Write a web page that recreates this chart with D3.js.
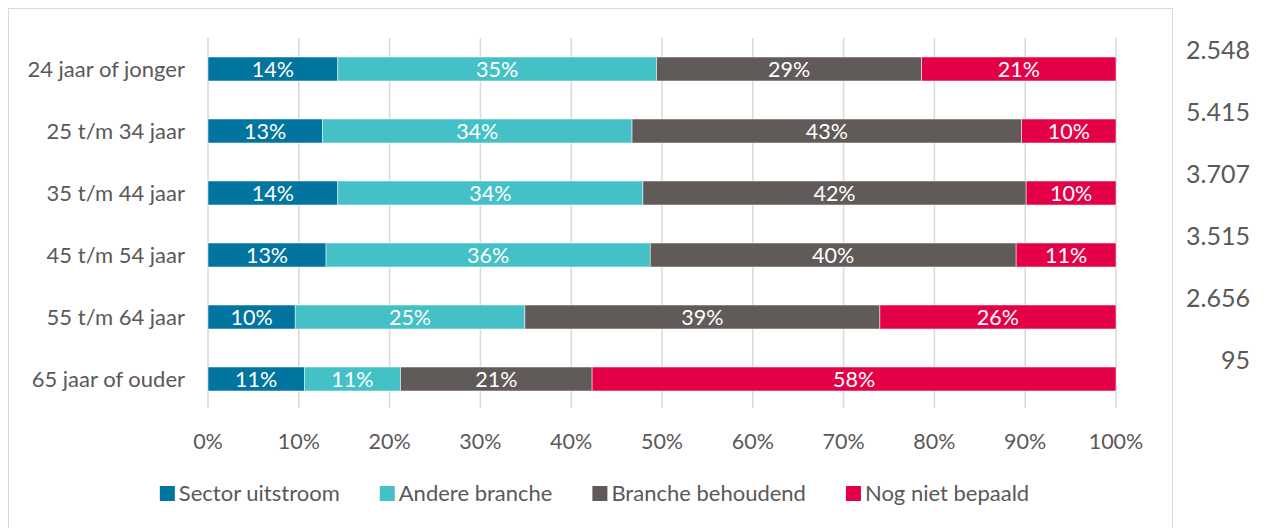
<!DOCTYPE html>
<html>
<head>
<meta charset="utf-8">
<script src="https://cdn.jsdelivr.net/npm/d3@7"></script>
<style>
  body { margin: 0; background: #fff; }
  text { font-family: Lato, "Open Sans", sans-serif; }
</style>
</head>
<body>
<div id="chart"></div>
<script>
// Data
const categories = ["24 jaar of jonger", "25 t/m 34 jaar", "35 t/m 44 jaar", "45 t/m 54 jaar", "55 t/m 64 jaar", "65 jaar of ouder"];
const seriesNames = ["Sector uitstroom", "Andere branche", "Branche behoudend", "Nog niet bepaald"];
const sectorUitstroom = [0.143, 0.126, 0.143, 0.130, 0.096, 0.106];
const andereBranche = [0.351, 0.341, 0.336, 0.357, 0.253, 0.106];
const brancheBehoudend = [0.292, 0.429, 0.422, 0.403, 0.391, 0.211];
const nogNietBepaald = [0.214, 0.104, 0.099, 0.110, 0.260, 0.577];
const totals = ["2.548", "5.415", "3.707", "3.515", "2.656", "95"];
const xTicks = [0, 0.1, 0.2, 0.3, 0.4, 0.5, 0.6, 0.7, 0.8, 0.9, 1];
const colors = ["#0175a0", "#44c1c7", "#605b58", "#e40046"];

const width = 1263, height = 528;
const plot = { left: 208, right: 1116, top: 38, bottom: 408 };

const svg = d3.select("#chart")
    .append("svg")
    .attr("width", width)
    .attr("height", height);

// chart frame
svg.append("rect")
    .attr("x", 8.5).attr("y", 8.5)
    .attr("width", 1164).attr("height", 540)
    .attr("fill", "none")
    .attr("stroke", "#d9d9d9");

const rows = categories.map((c, i) => ({
    cat: c,
    "Sector uitstroom": sectorUitstroom[i],
    "Andere branche": andereBranche[i],
    "Branche behoudend": brancheBehoudend[i],
    "Nog niet bepaald": nogNietBepaald[i]
}));

const x = d3.scaleLinear().domain([0, 1]).range([plot.left, plot.right]);
const y = d3.scaleBand()
    .domain(categories)
    .range([38, 410])
    .paddingInner(0.613)
    .paddingOuter(0.3065);
const color = d3.scaleOrdinal().domain(seriesNames).range(colors);

// gridlines
svg.append("g")
    .selectAll("line")
    .data(xTicks)
    .enter()
    .append("line")
    .attr("x1", d => x(d)).attr("x2", d => x(d))
    .attr("y1", plot.top).attr("y2", plot.bottom)
    .attr("stroke", "#d9d9d9")
    .attr("stroke-width", 1.5);

// x tick labels
svg.append("g")
    .selectAll("text")
    .data(xTicks)
    .enter()
    .append("text")
    .attr("x", d => x(d))
    .attr("y", 441)
    .attr("dy", "0.35em")
    .attr("text-anchor", "middle")
    .style("font-size", "21.5px")
    .style("fill", "#595959")
    .text(d3.format(".0%"));

// category labels
svg.append("g")
    .selectAll("text")
    .data(categories)
    .enter()
    .append("text")
    .attr("x", 185)
    .attr("y", d => y(d) + y.bandwidth() / 2)
    .attr("dy", "0.35em")
    .attr("text-anchor", "end")
    .style("font-size", "22px")
    .style("fill", "#595959")
    .text(d => d);

// stacked bars
const stacked = d3.stack().keys(seriesNames)(rows);

const layers = svg.append("g")
    .selectAll("g")
    .data(stacked)
    .enter()
    .append("g")
    .attr("fill", d => color(d.key));

layers.selectAll("rect")
    .data(d => d)
    .enter()
    .append("rect")
    .attr("x", d => x(d[0]))
    .attr("y", d => y(d.data.cat))
    .attr("width", d => x(d[1]) - x(d[0]))
    .attr("height", y.bandwidth())
    .attr("stroke", "#ffffff")
    .attr("stroke-width", 0.5);

layers.selectAll("text")
    .data(d => d)
    .enter()
    .append("text")
    .attr("x", d => (x(d[0]) + x(d[1])) / 2)
    .attr("y", d => y(d.data.cat) + y.bandwidth() / 2)
    .attr("dy", "0.35em")
    .attr("text-anchor", "middle")
    .style("font-size", "21.5px")
    .style("fill", "#ffffff")
    .text(d => d3.format(".0%")(d[1] - d[0]));

// totals on the right
svg.append("g")
    .selectAll("text")
    .data(totals)
    .enter()
    .append("text")
    .attr("x", 1250)
    .attr("y", (d, i) => y(categories[i]) + y.bandwidth() / 2 - 19)
    .attr("dy", "0.35em")
    .attr("text-anchor", "end")
    .style("font-size", "25px")
    .style("fill", "#595959")
    .text(d => d);

// legend
const legend = svg.append("g");
const items = legend.selectAll("g")
    .data(seriesNames)
    .enter()
    .append("g");
items.append("rect")
    .attr("y", 486)
    .attr("width", 15).attr("height", 15)
    .attr("fill", d => color(d));
items.append("text")
    .attr("x", 19)
    .attr("y", 493.5)
    .attr("dy", "0.35em")
    .style("font-size", "22px")
    .style("fill", "#595959")
    .text(d => d);

const gap = 40;
const widths = items.nodes().map(n => 19 + n.querySelector("text").getComputedTextLength());
const total = d3.sum(widths) + gap * (widths.length - 1);
const start = 594.5 - total / 2;
let offset = 0;
items.attr("transform", (d, i) => {
    const t = "translate(" + (start + offset) + ",0)";
    offset += widths[i] + gap;
    return t;
});
</script>
</body>
</html>
